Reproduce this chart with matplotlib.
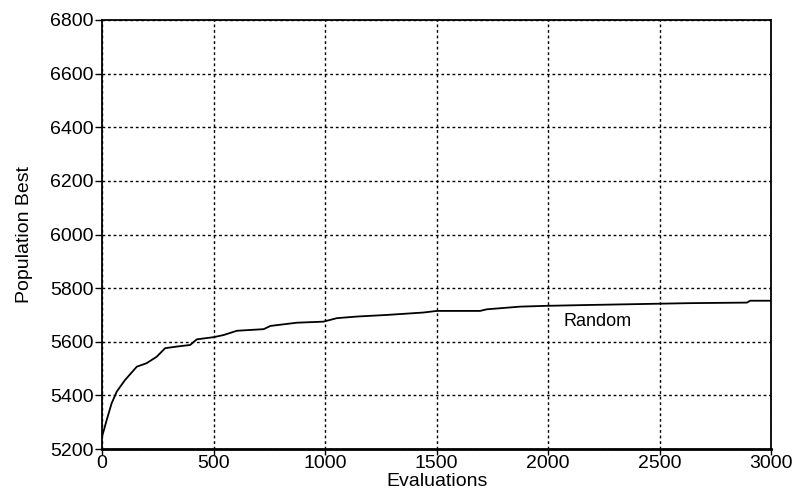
import matplotlib
matplotlib.use("Agg")
import matplotlib.pyplot as plt

plt.rcParams['font.family'] = ['Liberation Sans', 'DejaVu Sans']

evaluations = [0, 10, 21, 43, 66, 103, 156, 200, 245, 283, 335, 395, 425, 500, 545, 605,
               725, 755, 873, 993, 1053, 1143, 1277, 1441, 1501, 1695, 1725, 1875, 1995,
               2174, 2637, 2891, 2906, 3000]
best = [5246, 5275, 5308, 5370, 5414, 5457, 5507, 5520, 5544, 5576, 5582, 5588, 5609, 5617,
        5625, 5641, 5647, 5659, 5671, 5675, 5688, 5694, 5700, 5709, 5715, 5715, 5721, 5731,
        5734, 5737, 5744, 5746, 5753, 5753]
x_ticks = [0, 500, 1000, 1500, 2000, 2500, 3000]
y_ticks = [5200, 5400, 5600, 5800, 6000, 6200, 6400, 6600, 6800]
series_label = "Random"

fig = plt.figure(figsize=(8, 5), dpi=100)
ax = fig.add_axes([0.1275, 0.102, 0.8365, 0.858])
ax.plot(evaluations, best, color='black', lw=1.3)
ax.set_xlim(0, 3000)
ax.set_ylim(5200, 6800)
ax.set_xticks(x_ticks)
ax.set_yticks(y_ticks)
ax.grid(True, color='black', linestyle=(0, (2, 2)), lw=1)
ax.tick_params(direction='out', length=5, width=1, labelsize=14, colors='black', pad=1)
ax.tick_params(axis='x', length=4, pad=0)
for s in ax.spines.values():
    s.set_linewidth(1.3)
ax.spines['bottom'].set_linewidth(2)
ax.text(2070, 5675, series_label, fontsize=13, va='center', ha='left')
ax.set_xlabel("Evaluations", fontsize=14, labelpad=1)
ax.set_ylabel("Population Best", fontsize=14, labelpad=12)
fig.savefig("out.png", dpi=100)
